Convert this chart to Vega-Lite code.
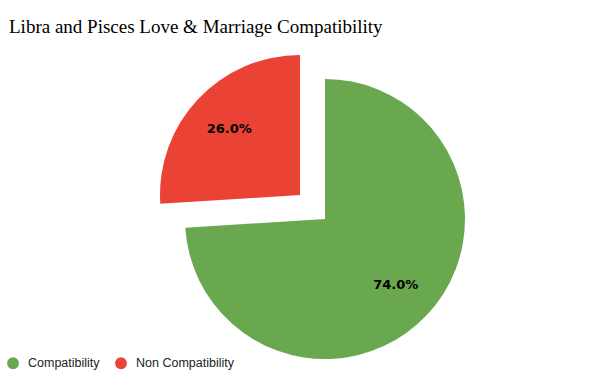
{
  "$schema": "https://vega.github.io/schema/vega-lite/v6.json",
  "width": 550,
  "height": 320,
  "autosize": {"type": "none"},
  "padding": {"left": 50, "top": 59, "right": 0, "bottom": 0},
  "background": "white",
  "view": {"stroke": null},
  "title": {
    "text": "Libra and Pisces Love & Marriage Compatibility",
    "anchor": "start",
    "frame": "group",
    "dx": -41,
    "offset": 18,
    "font": "Liberation Serif",
    "fontSize": 19,
    "fontWeight": "normal",
    "color": "#000000"
  },
  "data": {
    "values": [
      {"category": "Compatibility", "value": 74, "label": "74.0%"},
      {"category": "Non Compatibility", "value": 26, "label": "26.0%"}
    ]
  },
  "encoding": {
    "color": {
      "field": "category",
      "type": "nominal",
      "scale": {"domain": ["Compatibility", "Non Compatibility"], "range": ["#6aa84f", "#ea4335"]},
      "legend": {
        "orient": "none",
        "legendX": -44,
        "legendY": 297,
        "direction": "horizontal",
        "title": null,
        "symbolType": "circle",
        "symbolSize": 140,
        "labelFont": "Liberation Sans",
        "labelFontSize": 12.5,
        "labelColor": "#222222",
        "columnPadding": 14,
        "labelOffset": 8
      }
    }
  },
  "layer": [
    {
      "transform": [
        {"stack": "value", "groupby": [], "as": ["v0", "v1"], "sort": [{"field": "category", "order": "ascending"}]},
        {"filter": "datum.category === 'Compatibility'"}
      ],
      "mark": {"type": "arc", "outerRadius": 140},
      "encoding": {
        "theta": {"field": "v0", "type": "quantitative", "scale": {"domain": [0, 100]}},
        "theta2": {"field": "v1"}
      }
    },
    {
      "transform": [
        {"stack": "value", "groupby": [], "as": ["v0", "v1"], "sort": [{"field": "category", "order": "ascending"}]},
        {"filter": "datum.category === 'Non Compatibility'"}
      ],
      "mark": {"type": "arc", "outerRadius": 140, "xOffset": -25, "yOffset": -24},
      "encoding": {
        "theta": {"field": "v0", "type": "quantitative", "scale": {"domain": [0, 100]}},
        "theta2": {"field": "v1"}
      }
    },
    {
      "mark": {"type": "text", "radius": 97, "font": "DejaVu Sans", "fontSize": 13, "fontWeight": "bold"},
      "encoding": {
        "theta": {"field": "value", "type": "quantitative", "stack": true, "sort": {"field": "category"}},
        "order": {"field": "category", "sort": "ascending"},
        "text": {"field": "label"},
        "color": {"value": "#000000"},
        "opacity": {"condition": {"test": "datum.category === 'Compatibility'", "value": 1}, "value": 0}
      }
    },
    {
      "mark": {"type": "text", "radius": 97, "xOffset": -25, "yOffset": -24, "font": "DejaVu Sans", "fontSize": 13, "fontWeight": "bold"},
      "encoding": {
        "theta": {"field": "value", "type": "quantitative", "stack": true},
        "order": {"field": "category", "sort": "ascending"},
        "text": {"field": "label"},
        "color": {"value": "#000000"},
        "opacity": {"condition": {"test": "datum.category === 'Non Compatibility'", "value": 1}, "value": 0}
      }
    }
  ]
}
